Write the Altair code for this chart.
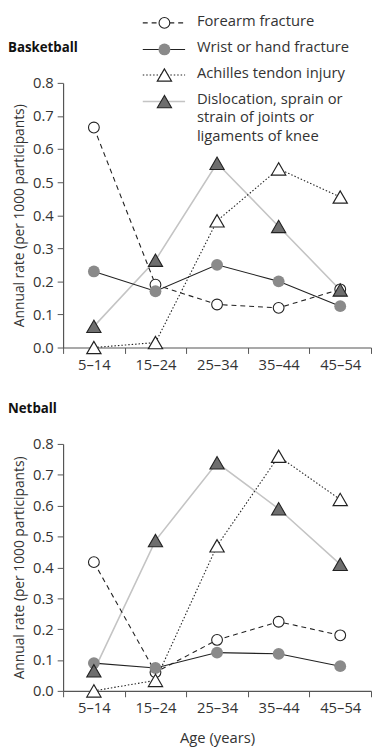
import altair as alt
import pandas as pd

# ---------------- data ----------------
ages = ["5–14", "15–24", "25–34", "35–44", "45–54"]
series = ["Forearm fracture", "Wrist or hand fracture",
          "Achilles tendon injury", "Knee"]
legend_text = ["Forearm fracture", "Wrist or hand fracture", "Achilles tendon injury",
               "Dislocation, sprain or", "strain of joints or", "ligaments of knee"]
panel_titles = ["Basketball", "Netball"]

basketball_forearm = [0.665, 0.19, 0.13, 0.12, 0.176]
basketball_wrist = [0.23, 0.17, 0.25, 0.20, 0.125]
basketball_achilles = [0.0, 0.015, 0.383, 0.54, 0.455]
basketball_knee = [0.064, 0.264, 0.557, 0.366, 0.174]

netball_forearm = [0.417, 0.06, 0.165, 0.224, 0.18]
netball_wrist = [0.09, 0.074, 0.124, 0.12, 0.08]
netball_achilles = [0.0, 0.034, 0.47, 0.76, 0.62]
netball_knee = [0.065, 0.487, 0.739, 0.59, 0.41]

FONT = "Open Sans"
TXT = "#333333"
W = 313

styles = {
    "Forearm fracture": dict(line=dict(color="#222222", strokeDash=[5, 4], strokeWidth=1.1),
                             point=dict(shape="circle", fill="white", stroke="#222222", strokeWidth=1.1, size=120, filled=True, opacity=1)),
    "Wrist or hand fracture": dict(line=dict(color="#222222", strokeWidth=1.1),
                                   point=dict(shape="circle", fill="#8a8a8a", strokeWidth=0, size=145, filled=True, opacity=1)),
    "Achilles tendon injury": dict(line=dict(color="#222222", strokeDash=[1.5, 2], strokeWidth=1.1),
                                   point=dict(shape="triangle-up", fill="white", stroke="#222222", strokeWidth=1.2, size=210, filled=True, opacity=1)),
    "Knee": dict(line=dict(color="#c4c4c4", strokeWidth=1.6),
                 point=dict(shape="triangle-up", fill="#6e6e6e", stroke="#222222", strokeWidth=1.1, size=210, filled=True, opacity=1)),
}
line_order = ["Knee", "Forearm fracture", "Achilles tendon injury", "Wrist or hand fracture"]
point_order = ["Forearm fracture", "Wrist or hand fracture", "Achilles tendon injury", "Knee"]


def make_df(vals):
    rows = []
    for s, v in zip(series, vals):
        for i, (a, y) in enumerate(zip(ages, v)):
            rows.append({"series": s, "idx": i, "age": a, "rate": y})
    return pd.DataFrame(rows)


label_expr = "[" + ",".join("'%s'" % a for a in ages) + "][round(datum.value + 0.5)] || ''"
half_band = W / len(ages) / 2


def panel(vals, title, height, show_xtitle, legend):
    df = make_df(vals)
    x_enc = alt.X("idx:Q",
                  scale=alt.Scale(domain=[-0.5, len(ages) - 0.5], nice=False, zero=False),
                  axis=alt.Axis(values=[i - 0.5 for i in range(len(ages) + 1)],
                                labelExpr=label_expr,
                                labelOffset={"condition": {"test": "datum.value > %s" % (len(ages) - 1),
                                                           "value": 0},
                                             "value": half_band},
                                labelOverlap=False, labelFlush=False, grid=False,
                                title="Age (years)" if show_xtitle else None,
                                titlePadding=15, titleFontSize=15))
    y_enc = alt.Y("rate:Q", scale=alt.Scale(domain=[0, 0.8], nice=False),
                  axis=alt.Axis(values=[i / 10 for i in range(9)], format=".1f", grid=False,
                                title="Annual rate (per 1000 participants)", titlePadding=6,
                                titleFontSize=14))
    base = alt.Chart(df)
    layers = []
    for s in line_order:
        layers.append(base.transform_filter(alt.datum.series == s)
                      .mark_line(**styles[s]["line"]).encode(x=x_enc, y=y_enc))
    for s in point_order:
        layers.append(base.transform_filter(alt.datum.series == s)
                      .mark_point(**styles[s]["point"]).encode(x=x_enc, y=y_enc))
    if legend:
        row_y = [-61, -34, -8, 19]
        txt_y = [-63, -36, -10, 16, 35, 54]
        for k, s in enumerate(series):
            ld = pd.DataFrame({"series": [s]})
            lb = alt.Chart(ld)
            layers.append(lb.mark_rule(**styles[s]["line"]).encode(
                x=alt.value(81), x2=alt.value(124), y=alt.value(row_y[k])))
            layers.append(lb.mark_point(**styles[s]["point"]).encode(
                x=alt.value(103), y=alt.value(row_y[k])))
        tdf = pd.DataFrame({"text": legend_text, "ty": txt_y})
        layers.append(alt.Chart(tdf).mark_text(align="left", baseline="middle", font=FONT,
                                               fontSize=15, color=TXT)
                      .encode(x=alt.value(136), y=alt.Y("ty:Q", scale=None), text="text:N"))
    tt = pd.DataFrame({"text": [title]})
    layers.append(alt.Chart(tt).mark_text(align="left", baseline="middle", font=FONT,
                                          fontSize=13.5, fontWeight="bold", color="#111111")
                  .encode(x=alt.value(-56), y=alt.value(-35), text="text:N"))
    return alt.layer(*layers).properties(width=W, height=height)


top = panel([basketball_forearm, basketball_wrist, basketball_achilles, basketball_knee],
            panel_titles[0], 269, False, True)
bottom = panel([netball_forearm, netball_wrist, netball_achilles, netball_knee],
               panel_titles[1], 251, True, False)

chart = alt.vconcat(top, bottom, spacing=31).properties(padding=0).configure_view(
    stroke=None
).configure_axis(
    domainColor="#555555", tickColor="#555555", tickSize=6, domainWidth=1.2,
    labelFont=FONT, labelFontSize=15, labelColor=TXT,
    titleFont=FONT, titleColor=TXT, titleFontWeight="normal",
    labelPadding=4
)

chart.save("out.html", embed_options={"renderer": "svg", "actions": False})
